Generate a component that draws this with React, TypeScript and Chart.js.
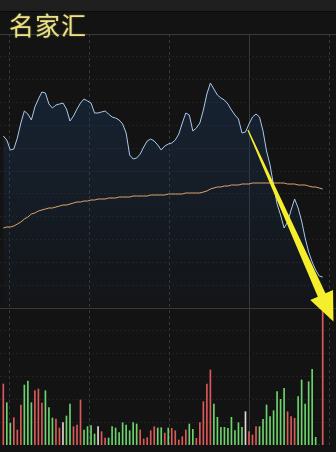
import React, { useEffect, useRef } from "react";
import { Chart, registerables } from "chart.js";

Chart.register(...registerables);

const TITLE = "名家汇";

// price (intraday line), one value per minute bar
const PRICE = [
  11.71, 11.67, 11.57, 11.58, 11.69, 11.84, 11.96, 11.93, 11.87, 12.0,
  12.08, 12.15, 12.14, 12.03, 11.99, 12.02, 12.03, 12.04, 11.98, 11.86,
  11.91, 11.98, 12.04, 12.08, 12.06, 12.04, 11.94, 11.94, 11.95, 11.96,
  11.93, 11.9, 11.89, 11.87, 11.83, 11.74, 11.52, 11.48, 11.49, 11.53,
  11.6, 11.66, 11.68, 11.66, 11.62, 11.57, 11.61, 11.63, 11.64, 11.67,
  11.73, 11.84, 11.94, 11.92, 11.76, 11.79, 11.84, 11.97, 12.13, 12.24,
  12.18, 12.12, 12.09, 12.07, 12.03, 11.97, 11.92, 11.88, 11.74, 11.75,
  11.83, 11.9, 11.93, 11.9, 11.76, 11.56, 11.42, 11.22, 11.03, 10.92,
  10.79, 10.85, 10.97, 11.08, 10.99, 10.86, 10.69, 10.55, 10.45, 10.37,
  10.31, 10.3,
];

// average price line
const AVERAGE = [
  10.79, 10.8, 10.8, 10.81, 10.83, 10.85, 10.88, 10.9, 10.93, 10.94,
  10.96, 10.97, 10.98, 10.99, 10.99, 11.0, 11.01, 11.02, 11.02, 11.03,
  11.04, 11.05, 11.05, 11.06, 11.06, 11.07, 11.07, 11.08, 11.08, 11.08,
  11.09, 11.09, 11.09, 11.1, 11.1, 11.1, 11.1, 11.11, 11.11, 11.11,
  11.11, 11.11, 11.12, 11.12, 11.12, 11.12, 11.12, 11.13, 11.13, 11.13,
  11.13, 11.13, 11.14, 11.14, 11.14, 11.14, 11.14, 11.15, 11.16, 11.18,
  11.19, 11.2, 11.2, 11.21, 11.21, 11.22, 11.22, 11.22, 11.23, 11.23,
  11.23, 11.24, 11.24, 11.24, 11.24, 11.24, 11.24, 11.24, 11.24, 11.24,
  11.24, 11.23, 11.23, 11.23, 11.22, 11.22, 11.22, 11.21, 11.2, 11.2,
  11.19, 11.18,
];

// volume (lots)
const VOLUME = [
  6100, 4230, 2200, 2730, 1500, 4000, 6000, 6400, 4230, 5430,
  5600, 4200, 5430, 3730, 2700, 2600, 1700, 2230, 2900, 4100,
  1830, 2000, 4500, 1500, 1830, 1930, 1100, 1830, 1330, 700,
  700, 1830, 1700, 1230, 2230, 2000, 1430, 2230, 2100, 1500,
  600, 730, 1430, 1830, 1700, 1730, 1200, 1700, 1670, 1430,
  500, 830, 1500, 2100, 1570, 670, 2230, 4330, 6100, 7500,
  4100, 2770, 1770, 1770, 1670, 2770, 1430, 2230, 1770, 3330,
  1330, 1000, 1830, 1830, 2570, 4000, 2830, 3430, 5330, 4570,
  5670, 3330, 2830, 2670, 4830, 6500, 4100, 6330, 7570, 770,
  0, 14200,
];

// r = up, g = down, w = flat
const VOL_DIR = [
  "r", "g", "g", "r", "r", "r", "g", "g", "g", "r",
  "r", "r", "g", "g", "g", "r", "r", "w", "g", "g",
  "r", "r", "r", "g", "g", "g", "g", "w", "r", "r",
  "g", "g", "g", "g", "g", "g", "g", "g", "g", "r",
  "r", "r", "r", "r", "g", "g", "r", "g", "r", "r",
  "r", "r", "r", "g", "g", "r", "r", "r", "r", "r",
  "g", "g", "g", "g", "g", "g", "g", "g", "g", "w",
  "r", "r", "r", "g", "g", "g", "g", "g", "g", "g",
  "g", "r", "r", "r", "g", "g", "g", "g", "g", "g",
  "g", "r",
];

const MINUTES = PRICE.map((_, i) => i);

// axis ranges
const X_MIN = -0.94;
const X_MAX = 94.79;
const PRICE_MIN = 8.62;
const PRICE_MAX = 12.73;
const PANEL_BASE = 10.0; // bottom of price panel
const VOL_MAX = 41100;
const GRID_X = [0, 1, 2, 3];
const GRID_X_MIN = -0.09375;
const GRID_X_MAX = 3.05625;
const GRID_Y_MAX = 18;
const GRID_Y_SEPARATOR = 6;

// annotation arrow (minute index, price)
const ARROW_FROM = [69.7, 11.77];
const ARROW_TO = [94.07, 9.855];

const COLORS: Record<string, string> = {
  r: "#dc5a5a",
  g: "#6cd46c",
  w: "#e6d6d6",
};

const arrowPlugin = {
  id: "arrowAnnotation",
  afterDatasetsDraw(chart: any) {
    const { ctx, scales } = chart;
    const xs = scales.x;
    const ys = scales.y;
    const x0 = xs.getPixelForValue(ARROW_FROM[0]);
    const y0 = ys.getPixelForValue(ARROW_FROM[1]);
    const x1 = xs.getPixelForValue(ARROW_TO[0]);
    const y1 = ys.getPixelForValue(ARROW_TO[1]);
    const dx = x1 - x0;
    const dy = y1 - y0;
    const len = Math.hypot(dx, dy);
    const ux = dx / len;
    const uy = dy / len;
    const nx = -uy;
    const ny = ux;
    const headLen = 29;
    const headHalf = 12.5;
    const tailHalf = 0.6;
    const neckHalf = 4.2;
    const bx = x1 - ux * headLen;
    const by = y1 - uy * headLen;
    ctx.save();
    ctx.beginPath();
    ctx.moveTo(x0 + nx * tailHalf, y0 + ny * tailHalf);
    ctx.lineTo(bx + nx * neckHalf, by + ny * neckHalf);
    ctx.lineTo(bx + nx * headHalf, by + ny * headHalf);
    ctx.lineTo(x1, y1);
    ctx.lineTo(bx - nx * headHalf, by - ny * headHalf);
    ctx.lineTo(bx - nx * neckHalf, by - ny * neckHalf);
    ctx.lineTo(x0 - nx * tailHalf, y0 - ny * tailHalf);
    ctx.closePath();
    ctx.fillStyle = "#f4ee2c";
    ctx.fill();
    ctx.restore();
  },
};

export default function App() {
  const ref = useRef<HTMLCanvasElement | null>(null);

  useEffect(() => {
    if (!ref.current) return;
    const chart = new Chart(ref.current, {
      type: "bar",
      data: {
        labels: MINUTES,
        datasets: [
          {
            type: "bar",
            order: 0,
            data: MINUTES.map((m, i) => ({ x: m, y: VOLUME[i] })),
            yAxisID: "yv",
            xAxisID: "x",
            backgroundColor: VOL_DIR.map((d) => COLORS[d]),
            barThickness: 1,
            borderWidth: 0,
          } as any,
          {
            type: "line",
            order: 1,
            data: MINUTES.map((m, i) => ({ x: m, y: AVERAGE[i] })),
            yAxisID: "y",
            xAxisID: "x",
            borderColor: "#dfa46c",
            borderWidth: 1,
            pointRadius: 0,
            tension: 0,
            fill: false,
          } as any,
          {
            type: "line",
            order: 2,
            data: MINUTES.map((m, i) => ({ x: m, y: PRICE[i] })),
            yAxisID: "y",
            xAxisID: "x",
            borderColor: "#a9c9ea",
            borderWidth: 1,
            pointRadius: 0,
            tension: 0,
            fill: { value: PANEL_BASE },
            backgroundColor: (c: any) => {
              const ch = c.chart;
              const area = ch.chartArea;
              if (!area || !ch.scales.y) return "rgba(30,60,100,0.25)";
              const g = ch.ctx.createLinearGradient(
                0,
                area.top,
                0,
                ch.scales.y.getPixelForValue(PANEL_BASE)
              );
              g.addColorStop(0, "rgba(30,62,104,0.42)");
              g.addColorStop(0.35, "rgba(30,62,104,0.32)");
              g.addColorStop(1, "rgba(30,62,104,0.06)");
              return g;
            },
          } as any,
        ],
      },
      options: {
        animation: false,
        responsive: false,
        devicePixelRatio: 1,
        layout: { autoPadding: false, padding: { top: 34, bottom: 7, left: 0, right: 0 } },
        plugins: {
          legend: { display: false },
          tooltip: { enabled: false },
          title: { display: false },
        },
        scales: {
          x: { type: "linear", min: X_MIN, max: X_MAX, display: false, offset: false },
          xg: {
            type: "linear",
            position: "bottom",
            min: GRID_X_MIN,
            max: GRID_X_MAX,
            bounds: "data",
            afterBuildTicks: (s: any) => {
              s.ticks = GRID_X.map((v) => ({ value: v }));
            },
            afterFit: (s: any) => {
              s.height = 0;
            },
            ticks: { display: false, stepSize: 1, includeBounds: false },
            grid: {
              drawTicks: false,
              color: "#383838",
              lineWidth: 1,
            },
            border: {
              display: false,
              dash: (c: any) => (c.tick && c.tick.value === GRID_X[GRID_X.length - 1] ? [] : [3, 3]),
            },
          },
          y: { type: "linear", min: PRICE_MIN, max: PRICE_MAX, display: false },
          yv: { type: "linear", min: 0, max: VOL_MAX, display: false },
          yg: {
            type: "linear",
            position: "left",
            min: 0,
            max: GRID_Y_MAX,
            bounds: "data",
            ticks: { display: false, stepSize: 1 },
            afterFit: (s: any) => {
              s.width = 0;
            },
            grid: {
              drawTicks: false,
              lineWidth: 1,
              color: (c: any) => {
                const v = c.tick ? c.tick.value : -1;
                if (v === 0) return "rgba(0,0,0,0)";
                if (v === GRID_Y_MAX || v === GRID_Y_SEPARATOR) return "#3a3a3a";
                return "#212121";
              },
            },
            border: {
              display: false,
              dash: (c: any) => {
                const v = c.tick ? c.tick.value : -1;
                return v === GRID_Y_MAX || v === GRID_Y_SEPARATOR ? [] : [2, 2];
              },
            },
          },
        },
      } as any,
      plugins: [arrowPlugin],
    });
    return () => chart.destroy();
  }, []);

  return (
    <div
      style={{
        position: "fixed",
        left: 0,
        top: 0,
        width: 336,
        height: 452,
        background: "#131313",
        overflow: "hidden",
      }}
    >
      <div
        style={{
          position: "absolute",
          left: 0,
          top: 0,
          width: 336,
          height: 11,
          background: "#1f1f1f",
          borderBottom: "1px solid #090909",
        }}
      />
      <canvas
        ref={ref}
        width={336}
        height={452}
        style={{ position: "absolute", left: 0, top: 0, width: 336, height: 452 }}
      />
      <div
        style={{
          position: "absolute",
          left: 9,
          top: 12,
          fontSize: 25,
          lineHeight: "25px",
          color: "#ece184",
          fontFamily: '"Noto Sans CJK SC", sans-serif',
          letterSpacing: 1,
          textShadow: "0 0 2px rgba(236,225,132,0.4)",
          whiteSpace: "nowrap",
        }}
      >
        {TITLE}
      </div>
    </div>
  );
}
